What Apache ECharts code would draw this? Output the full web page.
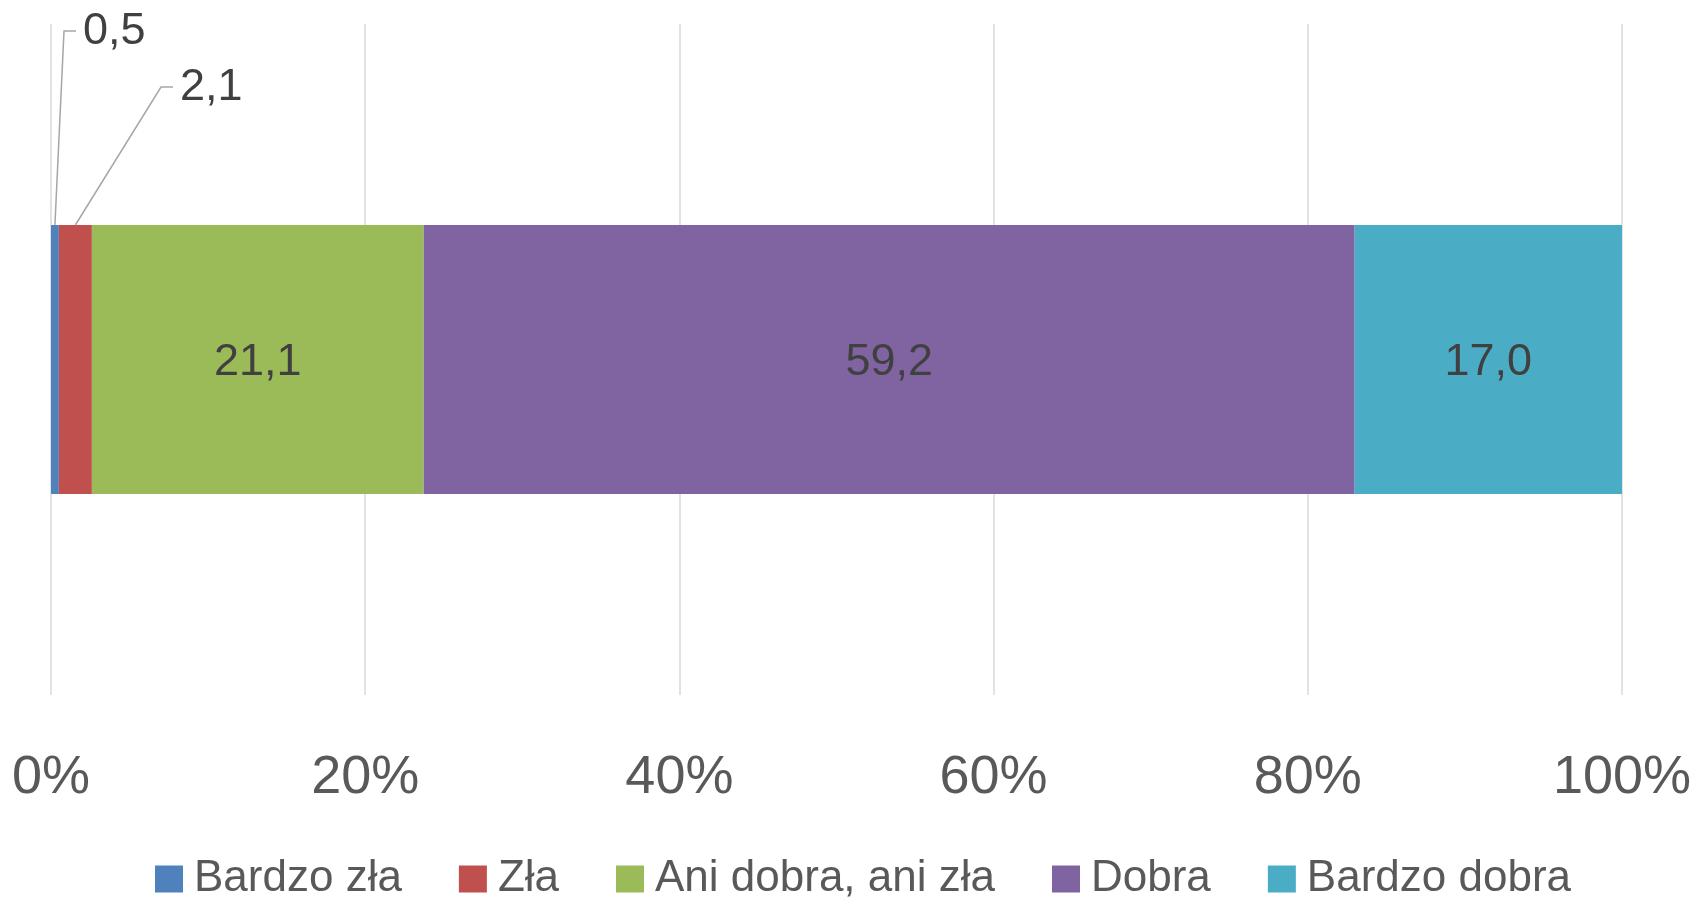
<!DOCTYPE html>
<html>
<head>
<meta charset="utf-8">
<script src="https://cdn.jsdelivr.net/npm/echarts@6/dist/echarts.min.js"></script>
<style>
  html, body { margin: 0; padding: 0; background: #fff; }
  #chart { width: 1696px; height: 903px; }
</style>
</head>
<body>
<div id="chart"></div>
<script>
// dane
const categories = ['']
const seriesNames = ['Bardzo zła', 'Zła', 'Ani dobra, ani zła', 'Dobra', 'Bardzo dobra']
const seriesValues = [0.5, 2.1, 21.1, 59.2, 17.0]
const xTicks = [0, 20, 40, 60, 80, 100]
const colors = ['#4F81BD', '#C0504D', '#9BBB59', '#8064A2', '#4BACC6']

// wykres 100% skumulowany - wartości normalizowane do sumy
const total = seriesValues.reduce((s, v) => s + v, 0)
const shares = seriesValues.map(v => v / total * 100)

// pozycje etykiet dla małych segmentów (z linią odniesienia)
const calloutPos = {
  0: { elbow: [64, 31], end: [76, 31], label: [83, 32] },
  1: { elbow: [161, 87], end: [173, 87], label: [180, 88] }
}

const BAR_HEIGHT = 269
const FONT = 'Liberation Sans, Arial, sans-serif'

const fmt = v => v.toFixed(1).replace('.', ',')

const chart = echarts.init(document.getElementById('chart'))

const series = seriesNames.map((name, i) => {
  const callout = calloutPos[i]
  const s = {
    name: name,
    type: 'bar',
    stack: 'total',
    barWidth: BAR_HEIGHT,
    itemStyle: { color: colors[i] },
    label: {
      show: true,
      position: 'inside',
      offset: [0, 3],
      formatter: () => fmt(seriesValues[i]),
      color: '#404040',
      fontFamily: FONT,
      fontSize: 45
    },
    data: [shares[i]]
  }
  if (callout) {
    s.label.offset = [0, 0]
    s.labelLayout = {
      x: callout.label[0],
      y: callout.label[1],
      align: 'left',
      verticalAlign: 'middle'
    }
  }
  return s
})

const option = {
  animation: false,
  grid: {
    left: 51,
    right: 74,
    top: 24,
    bottom: 208
  },
  legend: {
    data: seriesNames,
    top: 852,
    left: 150,
    itemWidth: 28,
    itemHeight: 27,
    itemGap: 57,
    icon: 'rect',
    textStyle: {
      color: '#595959',
      fontFamily: FONT,
      fontSize: 44,
      padding: [0, 0, 0, 6]
    }
  },
  xAxis: {
    type: 'value',
    min: 0,
    max: 100,
    interval: 20,
    axisLine: { show: false },
    axisTick: { show: false },
    splitLine: { lineStyle: { color: '#D9D9D9', width: 1.5 } },
    axisLabel: {
      margin: 56,
      color: '#595959',
      fontFamily: FONT,
      fontSize: 54,
      formatter: v => xTicks.includes(v) ? v + '%' : ''
    }
  },
  yAxis: {
    type: 'category',
    data: categories,
    axisLine: { show: false },
    axisTick: { show: false },
    axisLabel: { show: false }
  },
  series: series
}

chart.setOption(option)

// linie odniesienia dla małych segmentów
const yCenter = chart.convertToPixel({ yAxisIndex: 0 }, 0)
const barTop = yCenter - BAR_HEIGHT / 2
const leaders = []
let cum = 0
shares.forEach((v, i) => {
  const callout = calloutPos[i]
  if (callout) {
    const x0 = chart.convertToPixel({ xAxisIndex: 0 }, cum + v / 2)
    leaders.push({
      type: 'polyline',
      silent: true,
      z: 10,
      shape: { points: [[x0, barTop], callout.elbow, callout.end] },
      style: { stroke: '#A6A6A6', lineWidth: 1.5, fill: null }
    })
  }
  cum += v
})
chart.setOption({ graphic: leaders })
</script>
</body>
</html>
